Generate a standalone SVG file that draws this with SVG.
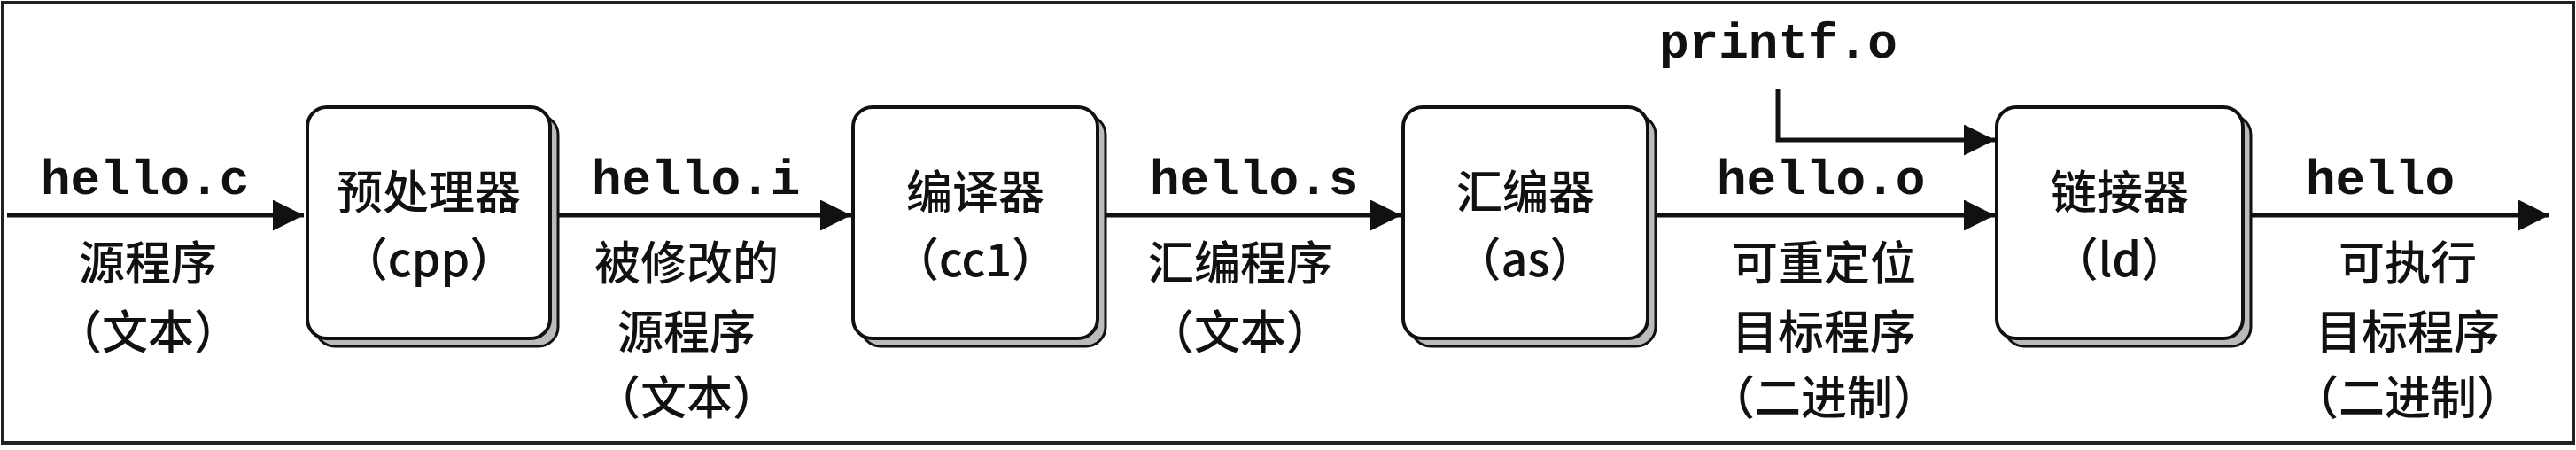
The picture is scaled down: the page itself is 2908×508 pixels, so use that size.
<svg xmlns="http://www.w3.org/2000/svg" width="2908" height="508" viewBox="0 0 2908 508">
<defs>
<style>
.m{font-family:"Liberation Mono",monospace;font-size:56px;font-weight:bold;fill:#111}
.c{font-family:"Noto Sans CJK SC","Noto Sans",sans-serif;font-size:52px;font-weight:500;fill:#111;text-anchor:middle}
.box{fill:#fff;stroke:#111;stroke-width:4}
.sh{fill:#bbb;stroke:#111;stroke-width:3}
.ln{stroke:#111;stroke-width:5;fill:none}
</style>
<marker id="ah" viewBox="0 0 10 10" refX="10" refY="5" markerWidth="7" markerHeight="7" markerUnits="strokeWidth" orient="auto"><path d="M0,0L10,5L0,10Z" fill="#111"/></marker>
</defs>
<rect x="3" y="3" width="2902" height="497" fill="#fff" stroke="#222" stroke-width="4"/>
<g id="connectors">
<line class="ln" x1="8" y1="243" x2="343" y2="243" marker-end="url(#ah)"/>
<line class="ln" x1="630" y1="243" x2="961" y2="243" marker-end="url(#ah)"/>
<line class="ln" x1="1248" y1="243" x2="1582" y2="243" marker-end="url(#ah)"/>
<line class="ln" x1="1869" y1="243" x2="2252" y2="243" marker-end="url(#ah)"/>
<polyline class="ln" points="2007,100 2007,158 2252,158" marker-end="url(#ah)"/>
<line class="ln" x1="2541" y1="243" x2="2878" y2="243" marker-end="url(#ah)"/>
</g>
<g id="labels">
<text class="m" x="46" y="219">hello.c</text>
<text class="c" x="167" y="316">源程序</text>
<text class="c" x="167" y="394">（文本）</text>
<text class="m" x="668" y="219">hello.i</text>
<text class="c" x="775" y="316">被修改的</text>
<text class="c" x="775" y="394">源程序</text>
<text class="c" x="775" y="468">（文本）</text>
<text class="m" x="1298" y="219">hello.s</text>
<text class="c" x="1400" y="316">汇编程序</text>
<text class="c" x="1400" y="394">（文本）</text>
<text class="m" x="1873" y="65">printf.o</text>
<text class="m" x="1938" y="219">hello.o</text>
<text class="c" x="2059" y="316">可重定位</text>
<text class="c" x="2059" y="394">目标程序</text>
<text class="c" x="2059" y="468">（二进制）</text>
<text class="m" x="2603" y="219">hello</text>
<text class="c" x="2718" y="316">可执行</text>
<text class="c" x="2718" y="394">目标程序</text>
<text class="c" x="2718" y="468">（二进制）</text>
</g>
<g id="cpp">
<rect class="sh" x="356" y="130" width="274" height="261" rx="22"/>
<rect class="box" x="347" y="121" width="274" height="261" rx="22"/>
<text class="c" x="484" y="236">预处理器</text>
<text class="c" x="484" y="312">（cpp）</text>
</g>
<g id="cc1">
<rect class="sh" x="972" y="130" width="276" height="261" rx="22"/>
<rect class="box" x="963" y="121" width="276" height="261" rx="22"/>
<text class="c" x="1101" y="236">编译器</text>
<text class="c" x="1101" y="312">（cc1）</text>
</g>
<g id="as">
<rect class="sh" x="1593" y="130" width="276" height="261" rx="22"/>
<rect class="box" x="1584" y="121" width="276" height="261" rx="22"/>
<text class="c" x="1722" y="236">汇编器</text>
<text class="c" x="1722" y="312">（as）</text>
</g>
<g id="ld">
<rect class="sh" x="2263" y="130" width="278" height="261" rx="22"/>
<rect class="box" x="2254" y="121" width="278" height="261" rx="22"/>
<text class="c" x="2393" y="236">链接器</text>
<text class="c" x="2393" y="312">（ld）</text>
</g>
</svg>
